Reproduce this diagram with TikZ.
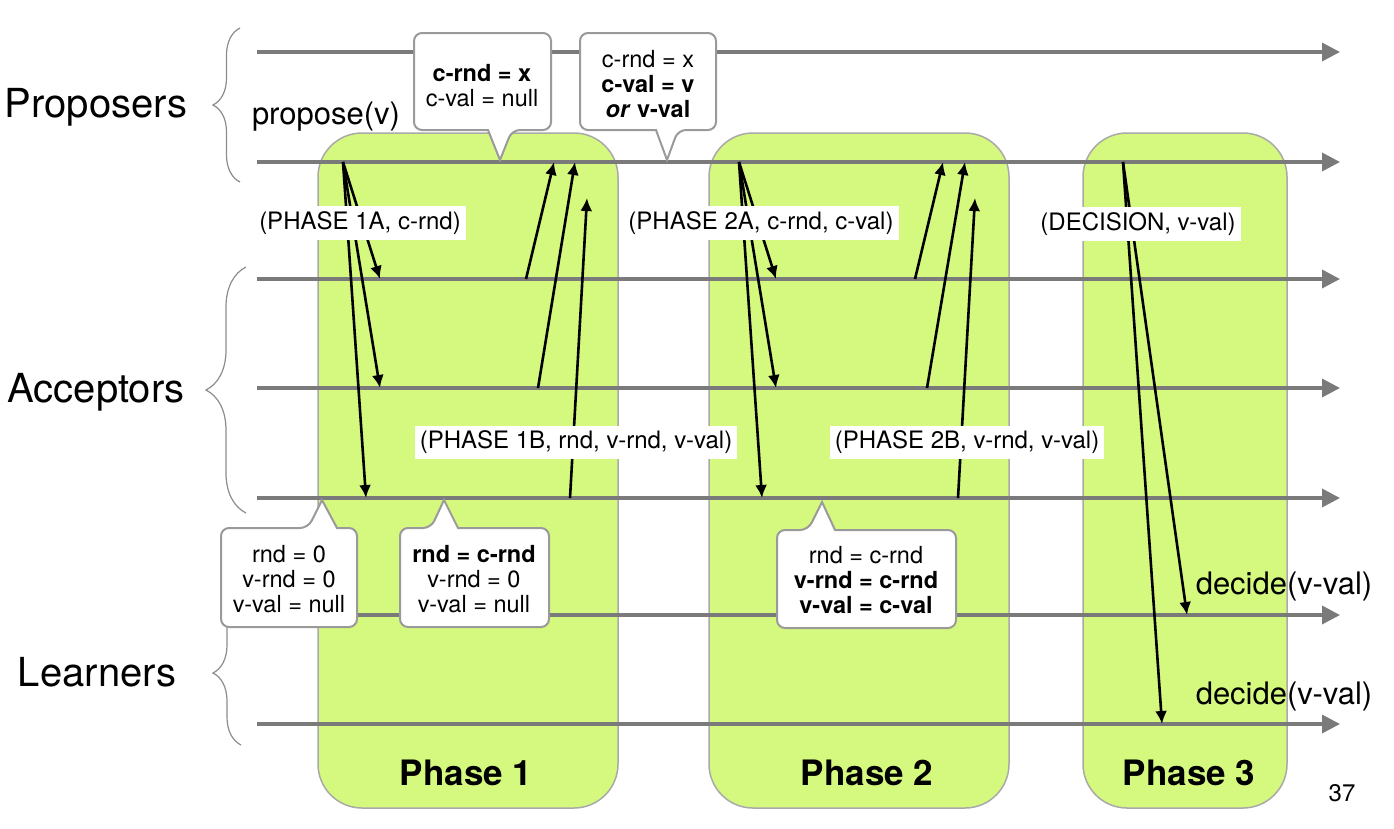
\documentclass[tikz,border=0pt]{standalone}
\usepackage{fontspec}
\setmainfont{TeX Gyre Heros}
\usepackage{tikz}
\usetikzlibrary{arrows.meta,decorations.pathreplacing}
\definecolor{phasegreen}{HTML}{D5F87F}
\definecolor{phaseedge}{HTML}{A9A9A9}
\definecolor{linegray}{HTML}{7A7A7A}
\definecolor{braceedge}{HTML}{8C8C8C}
\definecolor{calloutedge}{HTML}{9A9A9A}
\newcommand{\grpfont}{\fontsize{40}{42}\selectfont}
\newcommand{\actfont}{\fontsize{31}{33}\selectfont}
\newcommand{\msgfont}{\fontsize{24}{25}\selectfont}
\newcommand{\boxfont}{\fontsize{23.5}{25}\selectfont}
\newcommand{\phfont}{\fontsize{35}{37}\selectfont\bfseries}
\tikzset{
  timeline/.style={draw=linegray, line width=3.5pt, -{Triangle[length=18pt,width=18pt]}},
  msg/.style={->, line width=2.6pt, >={Latex[length=13pt,width=12pt]}},
  phase/.style={fill=phasegreen, draw=phaseedge, line width=1.5pt, rounded corners=44pt},
  group/.style={draw=braceedge, line width=1.2pt, decorate, decoration={brace, amplitude=#1}},
  msglabel/.style={fill=white, inner xsep=5pt, inner ysep=5pt, font=\msgfont},
  callout/.style={fill=white, draw=calloutedge, line width=2pt, rounded corners=8pt},
  callouttext/.style={align=center, font=\boxfont}
}

\begin{document}
\begin{tikzpicture}[x=1pt,y=-1pt]
        \useasboundingbox (0,0) rectangle (1394,828);
        \draw[phase] (318,133) rectangle (618,808);
        \draw[phase] (709,133) rectangle (1009,808);
        \draw[phase] (1083,133) rectangle (1287,808);
        \node[font=\phfont] (ph1) at (466,773) {Phase 1};
        \node[font=\phfont] (ph2) at (867,773) {Phase 2};
        \node[font=\phfont] (ph3) at (1189,773) {Phase 3};
        \node[font=\msgfont] (page) at (1342,793) {37};

        \draw[timeline] (257,52) -- (1340,52);
        \draw[timeline] (257,162) -- (1340,162);
        \draw[timeline] (257,279) -- (1340,279);
        \draw[timeline] (257,388) -- (1340,388);
        \draw[timeline] (257,498) -- (1340,498);
        \draw[timeline] (257,615) -- (1340,615);
        \draw[timeline] (257,724) -- (1340,724);

        \draw[group=27pt] (240,182) -- (240,28);
        \draw[group=40pt] (246,513) -- (246,267);
        \draw[group=28pt] (241,745) -- (241,601);
        \node[font=\grpfont] (proposers) at (96,107) {Proposers};
        \node[font=\grpfont] (acceptors) at (96,392) {Acceptors};
        \node[font=\grpfont] (learners) at (97,672) {Learners};
        \node[font=\actfont] (propose) at (326,117) {propose(v)};
        \node[font=\actfont] (decide1) at (1284,586) {decide(v-val)};
        \node[font=\actfont] (decide2) at (1284,696) {decide(v-val)};

        \coordinate (s1) at (343,162);
        \coordinate (a11) at (380,279);
        \coordinate (a12) at (380,388);
        \coordinate (a13) at (366,498);
        \coordinate (r11) at (526,279);
        \coordinate (r12) at (538,388);
        \coordinate (r13) at (570,498);
        \coordinate (t11) at (554,162);
        \coordinate (t12) at (575,162);
        \coordinate (t13) at (587,198);
        \draw[msg] (s1) -- (a11);
        \draw[msg] (s1) -- (a12);
        \draw[msg] (s1) -- (a13);
        \draw[msg] (r11) -- (t11);
        \draw[msg] (r12) -- (t12);
        \draw[msg] (r13) -- (t13);

        \coordinate (s2) at (739,162);
        \coordinate (a21) at (776,279);
        \coordinate (a22) at (776,388);
        \coordinate (a23) at (762,498);
        \coordinate (r21) at (915,279);
        \coordinate (r22) at (927,388);
        \coordinate (r23) at (958,498);
        \coordinate (t21) at (943,162);
        \coordinate (t22) at (965,162);
        \coordinate (t23) at (975,198);
        \draw[msg] (s2) -- (a21);
        \draw[msg] (s2) -- (a22);
        \draw[msg] (s2) -- (a23);
        \draw[msg] (r21) -- (t21);
        \draw[msg] (r22) -- (t22);
        \draw[msg] (r23) -- (t23);

        \coordinate (s3) at (1123,162);
        \coordinate (l1) at (1187,615);
        \coordinate (l2) at (1162,724);
        \draw[msg] (s3) -- (l1);
        \draw[msg] (s3) -- (l2);

        \node[msglabel] (lbl1a) at (360,223) {(PHASE 1A, c-rnd)};
        \node[msglabel] (lbl2a) at (761,223) {(PHASE 2A, c-rnd, c-val)};
        \node[msglabel] (lbldec) at (1138,224) {(DECISION, v-val)};
        \node[msglabel] (lbl1b) at (576,442) {(PHASE 1B, rnd, v-rnd, v-val)};
        \node[msglabel] (lbl2b) at (967,442) {(PHASE 2B, v-rnd, v-val)};

        \draw[callout] (414,33) -- (551,33) -- (551,130) -- (512,130) [sharp corners] -- (500,160) -- (488,130) [rounded corners=8pt] -- (414,130) -- cycle;
        \node[callouttext] (cr1) at (482,86) {\textbf{c-rnd = x}\\c-val = null};
        \draw[callout] (580,33) -- (716,33) -- (716,130) -- (678,130) [sharp corners] -- (667,160) -- (656,130) [rounded corners=8pt] -- (580,130) -- cycle;
        \node[callouttext] (cr2) at (648,84) {c-rnd = x\\\textbf{c-val = v}\\\textbf{\textit{or} v-val}};
        \draw[callout] (221,528) -- (308,528) [sharp corners] -- (322,500) -- (337,528) [rounded corners=8pt] -- (357,528) -- (357,627) -- (221,627) -- cycle;
        \node[callouttext] (cr3) at (289,579) {rnd = 0\\v-rnd = 0\\v-val = null};
        \draw[callout] (400,528) -- (431,528) [sharp corners] -- (444,500) -- (458,528) [rounded corners=8pt] -- (549,528) -- (549,627) -- (400,627) -- cycle;
        \node[callouttext] (cr4) at (474,579) {\textbf{rnd = c-rnd}\\v-rnd = 0\\v-val = null};
        \draw[callout] (777,530) -- (808,530) [sharp corners] -- (822,502) -- (835,530) [rounded corners=8pt] -- (956,530) -- (956,628) -- (777,628) -- cycle;
        \node[callouttext] (cr5) at (866,580) {rnd = c-rnd\\\textbf{v-rnd = c-rnd}\\\textbf{v-val = c-val}};
    \end{tikzpicture}
\end{document}
